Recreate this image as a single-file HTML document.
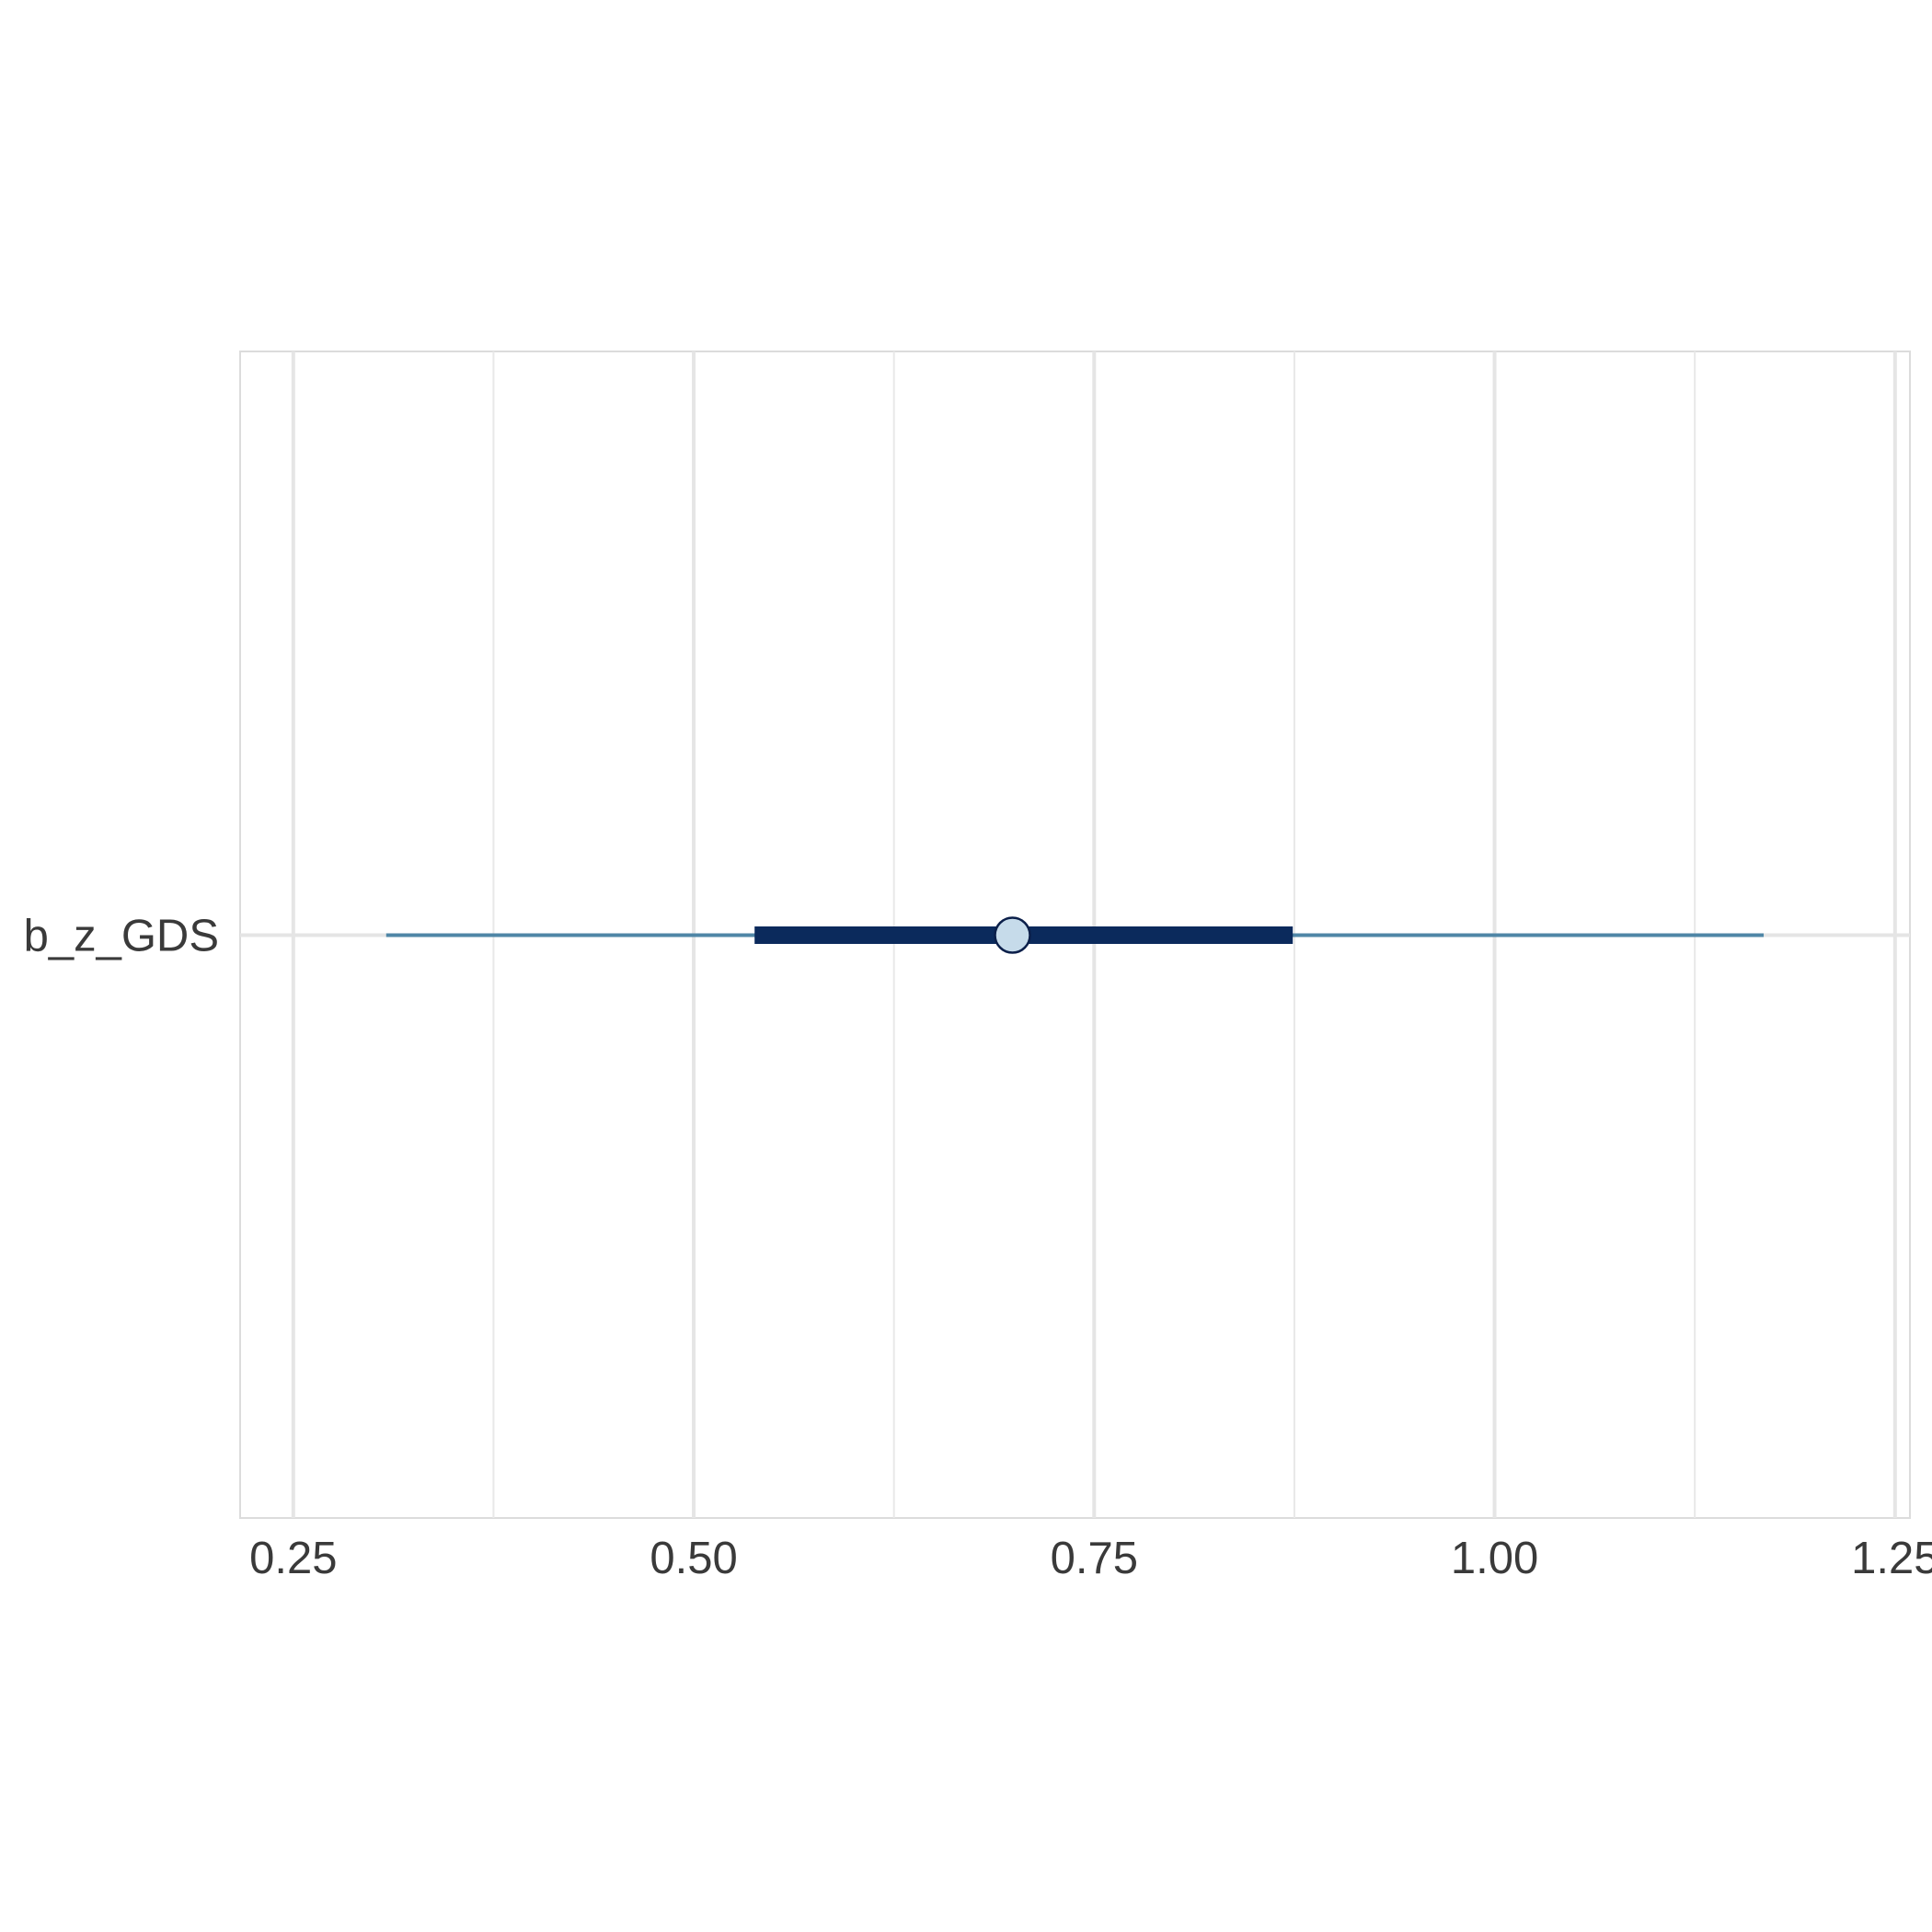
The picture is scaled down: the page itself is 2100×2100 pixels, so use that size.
<!DOCTYPE html>
<html><head><meta charset="utf-8"><style>html,body{margin:0;padding:0;background:#fff;}svg{display:block;}</style></head>
<body>
<svg id="chart" width="2100" height="2100" viewBox="0 0 2100 2100" xmlns="http://www.w3.org/2000/svg" font-family="Liberation Sans, Arial, sans-serif">
<g id="grid"></g><g id="marks"></g><g id="labels"></g>
</svg>
<script>
const params = ["b_z_GDS"];
const outerLow = [0.308];
const outerHigh = [1.168];
const innerLow = [0.538];
const innerHigh = [0.874];
const pointEst = [0.699];
const majorTicks = [0.25, 0.5, 0.75, 1.0, 1.25];
const tickLabels = ["0.25", "0.50", "0.75", "1.00", "1.25"];
const minorTicks = [0.375, 0.625, 0.875, 1.125];

const NS = "http://www.w3.org/2000/svg";
const L = 261, R = 2076, T = 382, B = 1650;
const x = v => 318.8 + (v - 0.25) * 1741;
const y = i => 1016.5;
function mk(tag, attrs, parent) { const e = document.createElementNS(NS, tag); for (const k in attrs) e.setAttribute(k, attrs[k]); document.getElementById(parent).appendChild(e); return e; }

let f = mk("rect", {x: L, y: T, width: R - L, height: B - T, fill: "none", stroke: "#dcdcdc", "stroke-width": 2}, "grid");


minorTicks.forEach(v => {
  const g = mk("line", {x1: x(v), x2: x(v), y1: T, y2: B, stroke: "#e8e8e8", "stroke-width": 2}, "grid");
  
  
});
majorTicks.forEach((v, i) => {
  const g = mk("line", {x1: x(v), x2: x(v), y1: T, y2: B, stroke: "#e5e5e5", "stroke-width": 4}, "grid");
  
  
  const t = mk("text", {x: x(v), y: 1710, "text-anchor": "middle", "font-size": 49, fill: "#3a3a3a"}, "labels");
  t.textContent = tickLabels[i];
  
  
});
params.forEach((p, i) => {
  const hg = mk("line", {x1: L, x2: R, y1: y(i), y2: y(i), stroke: "#e5e5e5", "stroke-width": 4}, "grid");
  
  
  const o = mk("line", {x1: x(outerLow[i]), x2: x(outerHigh[i]), y1: y(i), y2: y(i), stroke: "#4f86a6", "stroke-width": 4}, "marks");
  
  
  const n = mk("line", {x1: x(innerLow[i]), x2: x(innerHigh[i]), y1: y(i), y2: y(i), stroke: "#0b2a5c", "stroke-width": 19}, "marks");
  
  
  const c = mk("circle", {cx: x(pointEst[i]), cy: y(i), r: 19, fill: "#c6dbea", stroke: "#0b1f4a", "stroke-width": 2.5}, "marks");
  
  
  const t = mk("text", {x: 238, y: y(i) + 17, "text-anchor": "end", "font-size": 49, fill: "#3a3a3a"}, "labels");
  t.textContent = p;
  
  
});
</script>
</body></html>
